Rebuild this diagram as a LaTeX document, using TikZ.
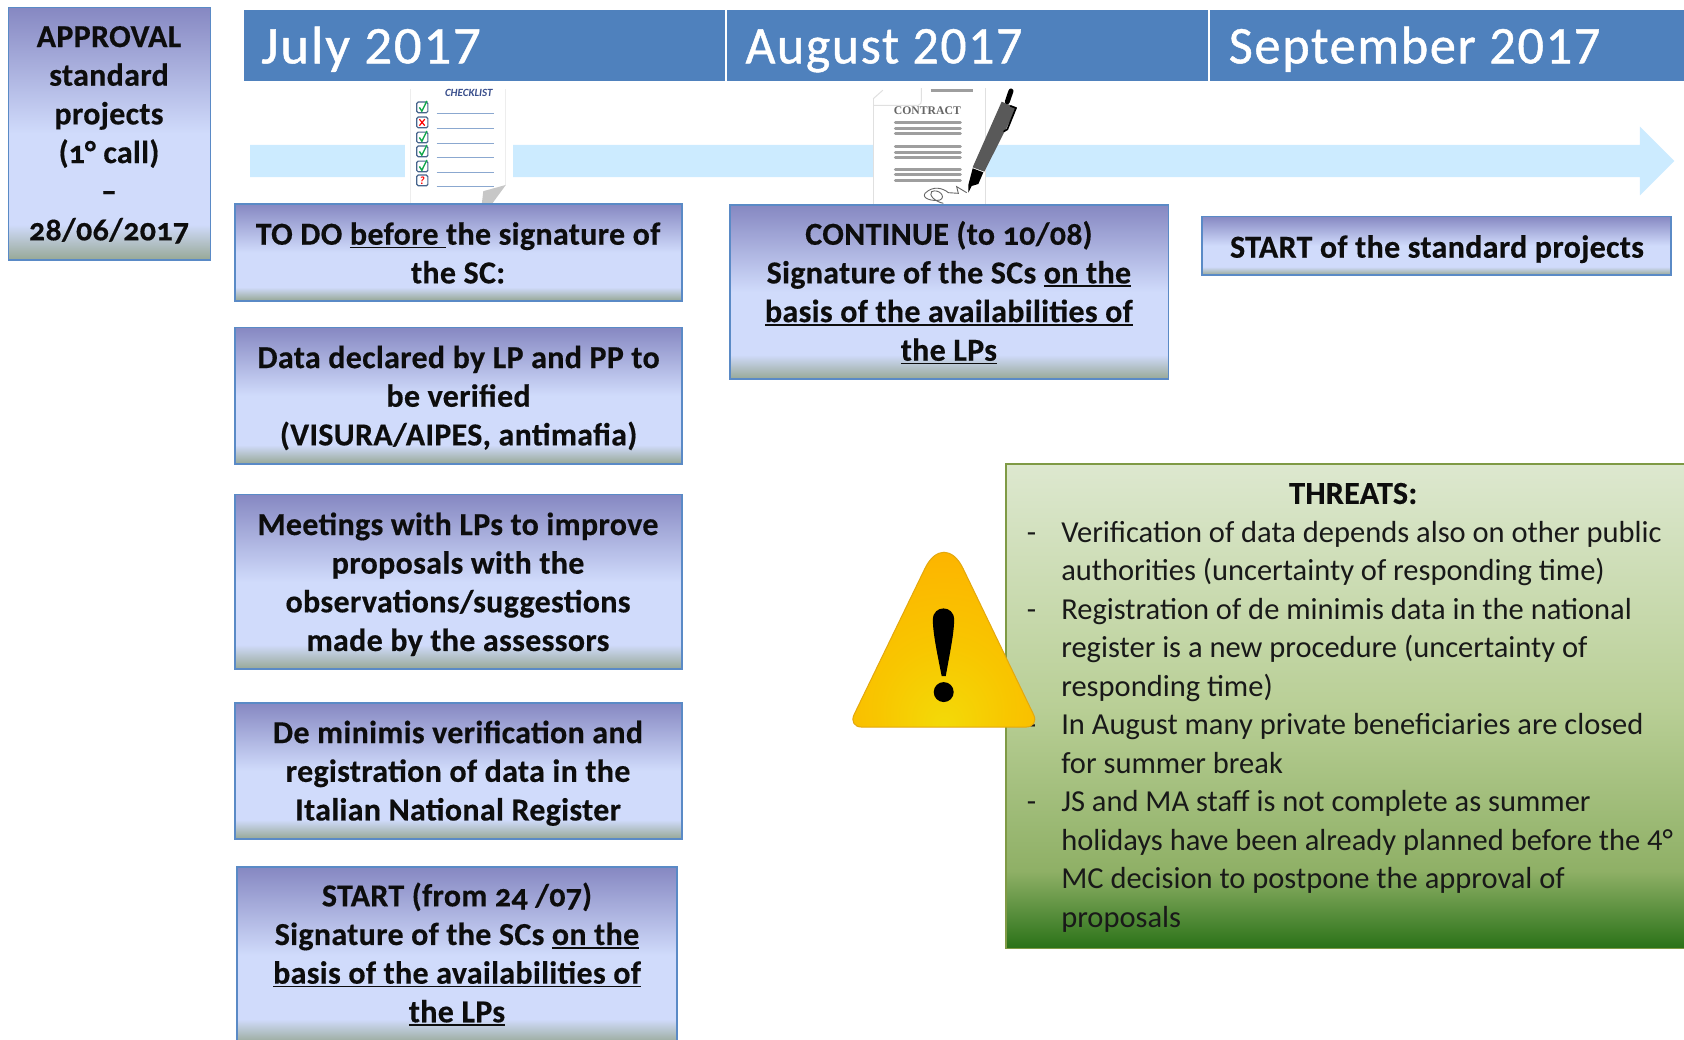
\documentclass[tikz,border=0pt]{standalone}
\usepackage{graphicx}
\usepackage{fontspec}
\setmainfont{Carlito}[BoldFeatures={FakeBold=0.4,LetterSpace=1}]
\newfontfamily\monthfont{Carlito}[FakeBold=0.9,LetterSpace=3.2]
\newcommand\osn[1]{{\addfontfeature{Numbers=OldStyle}#1}}
\definecolor{gA}{HTML}{8688C2}
\definecolor{gB}{HTML}{D0DBFB}
\definecolor{gC}{HTML}{97A896}
\definecolor{tA}{HTML}{DDE8CF}
\definecolor{tB}{HTML}{B9CF96}
\definecolor{tC}{HTML}{8FB066}
\definecolor{tD}{HTML}{2A7218}
\definecolor{tEdge}{HTML}{7F9A45}
\definecolor{bdr}{HTML}{5A8AC6}
\definecolor{hdr}{HTML}{4F81BD}
\definecolor{shaft}{HTML}{CCEBFF}
\definecolor{wTop}{HTML}{FDB400}
\definecolor{wMid}{HTML}{F8C600}
\definecolor{wLow}{HTML}{F3DA08}
\definecolor{wEdge}{HTML}{E3A80E}
\definecolor{chkInk}{HTML}{3A4F8C}
\definecolor{chkBox}{HTML}{46648C}
\definecolor{chkLine}{HTML}{8BA8D0}
\definecolor{chkGreen}{HTML}{12A84C}
\pgfdeclareverticalshading{boxgrad}{100bp}{color(0bp)=(gC);color(25bp)=(gC);color(32bp)=(gB);color(50bp)=(gB);color(75bp)=(gA);color(100bp)=(gA)}
\pgfdeclareverticalshading{threatgrad}{100bp}{color(0bp)=(tD);color(25bp)=(tD);color(33bp)=(tC);color(50bp)=(tB);color(75bp)=(tA);color(100bp)=(tA)}
\pgfdeclareradialshading{warngrad}{\pgfpoint{0bp}{-25bp}}{color(0bp)=(wLow);color(17bp)=(wMid);color(36bp)=(wTop);color(100bp)=(wTop)}
\newcommand\myul[1]{{\setbox0\hbox{#1}\rlap{\rule[-3.6pt]{\wd0}{1.7pt}}\box0}}
\tikzset{
  gradbox/.style={draw=bdr,line width=1.8pt,shading=boxgrad},
  boxtext/.style={font=\fontsize{32}{38.66}\selectfont\bfseries,align=center,inner sep=0pt,text=black!95},
  monthbar/.style={fill=hdr,draw=none},
  monthtext/.style={font=\monthfont\fontsize{53}{53}\selectfont,text=white,anchor=base west,inner sep=0pt},
  threattext/.style={font=\fontsize{30.5}{38.5}\selectfont,align=left,inner sep=0pt,anchor=north west,text=black!90},
  chkline/.style={draw=chkLine,line width=1pt},
  ctline/.style={draw=black!38,line width=3pt,line cap=round},
}
\begin{document}
\begin{tikzpicture}[x=1.074pt,y=-1.074pt]
\useasboundingbox (0,0) rectangle (1568,968.35);
% arrow
\fill[shaft] (233,135)--(1527,135)--(1527,118)--(1559,150)--(1527,182)--(1527,165)--(233,165)--cycle;
% months
\fill[monthbar] (227,9) rectangle (675,75);
\fill[monthbar] (677,9) rectangle (1125,75);
\fill[monthbar] (1127,9) rectangle (1568,75);
\node[monthtext] (mjul) at (243,59) {\scalebox{1.035}[1]{July 2017}};
\node[monthtext] (maug) at (694,59) {\scalebox{0.975}[1]{August 2017}};
\node[monthtext] (msep) at (1144,59) {\scalebox{0.986}[1]{September 2017}};
% checklist
\fill[white] (377,83) rectangle (477.4,190);
\draw[black!7,line width=0.8pt] (381.8,83)--(381.8,190) (471,83)--(471,172);
\fill[black!22] (471,172.2)--(450,178)--(448.6,190)--(458,190)--cycle;
\node[font=\fontsize{11}{11}\selectfont\bfseries\itshape,text=chkInk,inner sep=0pt] (chkt) at (436.5,86.6) {CHECKLIST};
\foreach \yy in {100,114,128,141,155,168}{
  \draw[draw=chkBox,line width=1.2pt,rounded corners=1.5pt,fill=white] (388,\yy-5) rectangle (398.4,\yy+5);
  \draw[chkline] (406.6,\yy+5.5)--(460,\yy+5.5);
}
\foreach \yy in {100,128,141,155}{\draw[chkGreen,line width=1.4pt] (390.5,\yy)--(392.8,\yy+3.5)--(397.5,\yy-6);}
\draw[red,line width=1.2pt] (390.5,111)--(395.5,117) (395.5,111)--(390.5,117);
\node[font=\fontsize{11}{11}\selectfont\bfseries\itshape,text=red,inner sep=0pt] (chkq) at (393,168) {?};
% contract
\fill[white] (813,82) rectangle (918,190);
\draw[black!12,line width=1pt] (813,92)--(813,190) (918,82)--(918,190);
\draw[black!12,line width=1pt] (813,92)--(822,84) (813,98)--(855,98) to[out=0,in=-90] (858,93)--(858,82);
\node[font=\fontsize{11.7}{11.7}\selectfont\bfseries,text=black!60,inner sep=0pt] (ctt) at (863.5,103.5) {\fontspec{Liberation Serif}CONTRACT};
\begin{scope}[shift={(744.9,55.87)},x=0.3333pt,y=-0.3333pt]
\draw[black!38,line width=3pt] (392,90)--(518,90);
\foreach \yy in {188,205,222,260,277,294,328,345,362}{\draw[ctline] (286,\yy)--(481,\yy);}
% pen
\fill[black!65] (605,125)--(650,143)--(553,335)--(518,322)--cycle;
\draw[black,line width=1.7pt,line cap=round,line join=round] (632,138)--(648,144)--(622,208)--(612,214);
\fill[black] (518,325)--(550,337)--(535,372)--(515,378)--(505,398)--(505,375)--cycle;
\draw[black,line width=5pt,line cap=round] (633,93)--(622,125);
% signature
\draw[black!60,line width=0.9pt] (500,398)--(470,380)--(475,400)--(445,398) .. controls (430,385) and (400,375) .. (375,400) .. controls (365,415) and (395,425) .. (420,420) .. controls (440,410) and (415,385) .. (395,395) .. controls (385,405) and (405,425) .. (430,430);
\end{scope}
% boxes
\path[gradbox] (8,7) rectangle (196,242);
\node[boxtext] (appr) at (101.5,125.5) {APPROVAL\\standard\\projects\\(\osn{1}° call)\\–\\\osn{28/06/2017}};
\path[gradbox] (218.5,190) rectangle (635,280);
\node[boxtext] (todo) at (426.5,235.5) {TO DO \myul{before\ }the signature of\\the SC:};
\path[gradbox] (219,305) rectangle (635,432);
\node[boxtext] (data) at (427,370.5) {Data declared by LP and PP to\\be verified\\(VISURA/AIPES, antimafia)};
\path[gradbox] (218.5,460.5) rectangle (635,623);
\node[boxtext] (meet) at (426.5,544) {Meetings with LPs to improve\\proposals with the\\observations/suggestions\\made by the assessors};
\path[gradbox] (218.5,654.5) rectangle (635,781);
\node[boxtext] (dem) at (426.5,720) {De minimis verification and\\registration of data in the\\Italian National Register};
\path[gradbox] (220.5,807.5) rectangle (630,972);
\node[boxtext] (strt) at (425.5,888.5) {START (from \osn{24 /07})\\Signature of the SCs \myul{on the}\\\myul{basis of the availabilities of}\\\myul{the LPs}};
\path[gradbox] (679.5,191) rectangle (1088,353);
\node[boxtext] (cont) at (883.5,272.5) {CONTINUE (to \osn{10/08})\\Signature of the SCs \myul{on the}\\\myul{basis of the availabilities of}\\\myul{the LPs}};
\path[gradbox] (1119.5,201.5) rectangle (1556,256);
\node[boxtext] (std) at (1338,232) {START of the standard projects};
% threats
\path[draw=tEdge,line width=1.6pt,shading=threatgrad] (936.5,432) rectangle (1580,883);
\node[boxtext] (thr) at (1260,459.5) {THREATS:};
\node[threattext] (thrb) at (988,485) {\llap{-\hspace{25pt}}Verification of data depends also on other public\\authorities (uncertainty of responding time)\\\llap{-\hspace{25pt}}Registration of de minimis data in the national\\register is a new procedure (uncertainty of\\responding time)\\\llap{-\hspace{25pt}}In August many private beneficiaries are closed\\for summer break\\\llap{-\hspace{25pt}}JS and MA staff is not complete as summer\\holidays have been already planned before the 4°\\MC decision to postpone the approval of\\proposals};
% warning triangle
\path[draw=wEdge,line width=1pt,shading=warngrad] (879,677) [rounded corners=14pt]--(968,677)[rounded corners=44pt]--(879,492.6)[rounded corners=14pt]--(789.6,677)--cycle;
\fill[black] (868.6,577) .. controls (868.6,563) and (888.4,563) .. (888.4,577) .. controls (888.4,590) and (884,610) .. (880.6,629.5) -- (876.8,629.5) .. controls (873,610) and (868.6,590) .. (868.6,577) -- cycle;
\fill[black] (878.7,644.4) circle[radius=9.3];
\end{tikzpicture}
\end{document}
